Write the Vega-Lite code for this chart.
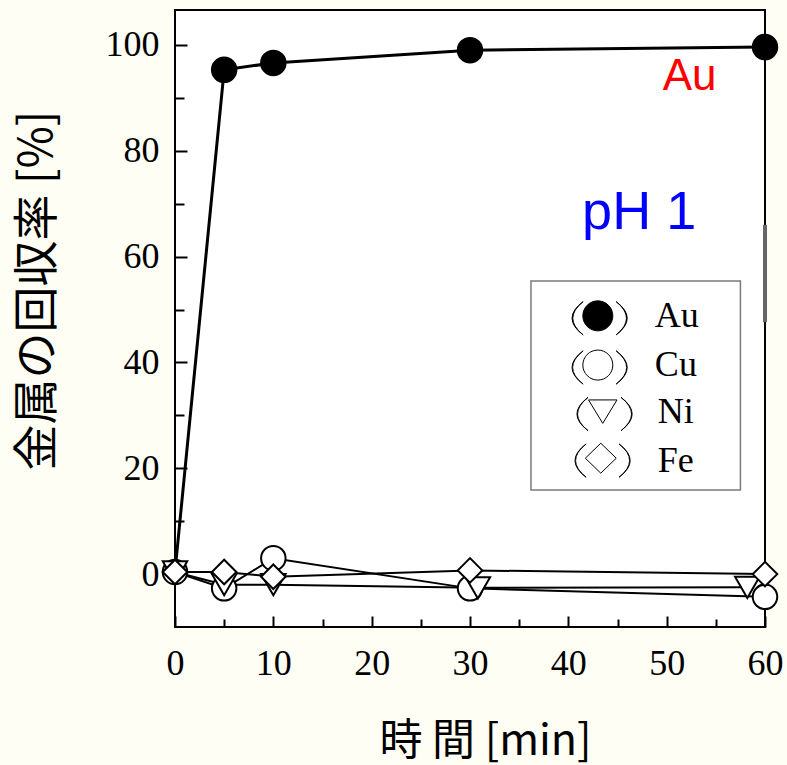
{
  "$schema": "https://vega.github.io/schema/vega-lite/v6.json",
  "width": 590,
  "height": 617,
  "autosize": {"type": "none"},
  "padding": {"left": 175, "top": 10, "right": 22, "bottom": 138},
  "background": "#fefef4",
  "config": {
    "view": {"stroke": "black", "strokeWidth": 2, "fill": "white"},
    "font": "Liberation Serif"
  },
  "datasets": {
    "recovery": [
      {"metal": "Au", "time": 0, "recovery": 0.5},
      {"metal": "Au", "time": 5, "recovery": 95.3},
      {"metal": "Au", "time": 10, "recovery": 96.6},
      {"metal": "Au", "time": 30, "recovery": 99.0},
      {"metal": "Au", "time": 60, "recovery": 99.6},
      {"metal": "Cu", "time": 0, "recovery": 0.4},
      {"metal": "Cu", "time": 5, "recovery": -2.7},
      {"metal": "Cu", "time": 10, "recovery": 3.0},
      {"metal": "Cu", "time": 30, "recovery": -2.7},
      {"metal": "Cu", "time": 60, "recovery": -4.3},
      {"metal": "Ni", "time": 0, "recovery": 0.4},
      {"metal": "Ni", "time": 5, "recovery": -2.0},
      {"metal": "Ni", "time": 10, "recovery": -2.0},
      {"metal": "Ni", "time": 30.8, "recovery": -2.6},
      {"metal": "Ni", "time": 58.2, "recovery": -2.5},
      {"metal": "Fe", "time": 0, "recovery": 0.4},
      {"metal": "Fe", "time": 5, "recovery": 0.4},
      {"metal": "Fe", "time": 10, "recovery": -0.5},
      {"metal": "Fe", "time": 30, "recovery": 0.7},
      {"metal": "Fe", "time": 60, "recovery": 0.0}
    ]
  },
  "resolve": {"axis": {"x": "independent", "y": "independent"}},
  "layer": [
    {
      "data": {"values": [{}]},
      "mark": {"type": "rect", "fill": "white", "stroke": "#7a7a7a", "strokeWidth": 1.5},
      "encoding": {
        "x": {"datum": 36.2, "type": "quantitative", "scale": {"domain": [0, 60], "nice": false}, "axis": null},
        "x2": {"datum": 57.5},
        "y": {"datum": 55.4, "type": "quantitative", "scale": {"domain": [-10, 106.6], "nice": false, "zero": false}, "axis": null},
        "y2": {"datum": 15.9}
      }
    },
    {
      "data": {"name": "recovery"},
      "transform": [{"filter": "datum.metal === 'Au'"}],
      "mark": {"type": "line", "color": "black", "strokeWidth": 3},
      "encoding": {
        "x": {
          "field": "time", "type": "quantitative",
          "scale": {"domain": [0, 60], "nice": false},
          "axis": {
            "orient": "bottom",
            "values": [0, 10, 20, 30, 40, 50, 60],
            "tickSize": -11, "tickWidth": 2, "tickColor": "black",
            "domain": false, "grid": false,
            "labelFont": "Liberation Serif", "labelFontSize": 36, "labelColor": "black",
            "labelPadding": 30, "labelFlush": false, "labelOverlap": false,
            "title": "時 間 [min]",
            "titleFont": "Noto Sans CJK JP", "titleFontSize": 43, "titleFontWeight": "normal",
            "titleColor": "black", "titleX": 310, "titleY": 93, "titleBaseline": "top", "titleAlign": "center"
          }
        },
        "y": {
          "field": "recovery", "type": "quantitative",
          "scale": {"domain": [-10, 106.6], "nice": false, "zero": false},
          "axis": {
            "orient": "left",
            "values": [0, 20, 40, 60, 80, 100],
            "tickSize": -12, "tickWidth": 2, "tickColor": "black",
            "domain": false, "grid": false,
            "labelFont": "Liberation Serif", "labelFontSize": 36, "labelColor": "black",
            "labelPadding": 28, "labelFlush": false, "labelOverlap": false,
            "title": "金属の回収率 [%]",
            "titleFont": "Noto Sans CJK JP", "titleFontSize": 46, "titleFontWeight": "normal",
            "titleColor": "black", "titleAngle": 270, "titleX": -114, "titleY": 280,
            "titleBaseline": "bottom", "titleAlign": "center"
          }
        }
      }
    },
    {
      "data": {"name": "recovery"},
      "transform": [{"filter": "datum.metal !== 'Au'"}],
      "mark": {"type": "line", "color": "black", "strokeWidth": 2},
      "encoding": {
        "x": {"field": "time", "type": "quantitative", "scale": {"domain": [0, 60], "nice": false}, "axis": null},
        "y": {"field": "recovery", "type": "quantitative", "scale": {"domain": [-10, 106.6], "nice": false, "zero": false}, "axis": null},
        "detail": {"field": "metal", "type": "nominal"}
      }
    },
    {
      "data": {"name": "recovery"},
      "transform": [{"filter": "datum.metal !== 'Au' || datum.time > 0"}],
      "mark": {"type": "point", "filled": true, "stroke": "black", "strokeWidth": 2, "size": 600, "opacity": 1},
      "encoding": {
        "x": {
          "field": "time", "type": "quantitative",
          "scale": {"domain": [0, 60], "nice": false},
          "axis": {
            "orient": "bottom",
            "values": [5, 15, 25, 35, 45, 55],
            "tickSize": -8, "tickWidth": 2, "tickColor": "black",
            "domain": false, "grid": false, "labels": false, "title": null
          }
        },
        "y": {
          "field": "recovery", "type": "quantitative",
          "scale": {"domain": [-10, 106.6], "nice": false, "zero": false},
          "axis": {
            "orient": "left",
            "values": [10, 30, 50, 70, 90],
            "tickSize": -9, "tickWidth": 2, "tickColor": "black",
            "domain": false, "grid": false, "labels": false, "title": null
          }
        },
        "fill": {
          "field": "metal", "type": "nominal",
          "scale": {"domain": ["Au", "Cu", "Ni", "Fe"], "range": ["black", "white", "white", "white"]},
          "legend": null
        },
        "shape": {
          "field": "metal", "type": "nominal",
          "scale": {"domain": ["Au", "Cu", "Ni", "Fe"], "range": ["circle", "circle", "triangle-down", "diamond"]},
          "legend": null
        }
      }
    },
    {
      "data": {"values": [{"metal": "Au"}]},
      "mark": {"type": "point", "shape": "M1,0C1,0.552 0.552,1 0,1C-0.552,1 -1,0.552 -1,0C-1,-0.552 -0.552,-1 0,-1C0.552,-1 1,-0.552 1,0ZM-0.98,-0.95Q-2.46,0.16 -0.98,1.27Q-2.36,0.16 -0.98,-0.95ZM1.22,-0.95Q2.7,0.16 1.22,1.27Q2.6,0.16 1.22,-0.95Z", "filled": true, "fill": "black", "stroke": "black", "strokeWidth": 1, "size": 900, "opacity": 1},
      "encoding": {
        "x": {"datum": 43.0, "type": "quantitative", "scale": {"domain": [0, 60], "nice": false}, "axis": null},
        "y": {"datum": 48.8, "type": "quantitative", "scale": {"domain": [-10, 106.6], "nice": false, "zero": false}, "axis": null}
      }
    },
    {
      "data": {"values": [{"metal": "Cu"}]},
      "mark": {"type": "point", "shape": "M1,0C1,0.552 0.552,1 0,1C-0.552,1 -1,0.552 -1,0C-1,-0.552 -0.552,-1 0,-1C0.552,-1 1,-0.552 1,0ZM-0.98,-0.95Q-2.46,0.16 -0.98,1.27Q-2.38,0.16 -0.98,-0.95ZM1.22,-0.95Q2.7,0.16 1.22,1.27Q2.62,0.16 1.22,-0.95Z", "filled": true, "fill": "white", "stroke": "black", "strokeWidth": 1, "size": 900, "opacity": 1},
      "encoding": {
        "x": {"datum": 43.0, "type": "quantitative", "scale": {"domain": [0, 60], "nice": false}, "axis": null},
        "y": {"datum": 39.5, "type": "quantitative", "scale": {"domain": [-10, 106.6], "nice": false, "zero": false}, "axis": null}
      }
    },
    {
      "data": {"values": [{"metal": "Ni"}]},
      "mark": {"type": "point", "shape": "M-0.95,-0.78L0.95,-0.78L0,0.78ZM-0.98,-0.95Q-2.46,0.16 -0.98,1.27Q-2.38,0.16 -0.98,-0.95ZM1.22,-0.95Q2.7,0.16 1.22,1.27Q2.62,0.16 1.22,-0.95Z", "filled": true, "fill": "white", "stroke": "black", "strokeWidth": 1, "size": 900, "opacity": 1},
      "encoding": {
        "x": {"datum": 43.5, "type": "quantitative", "scale": {"domain": [0, 60], "nice": false}, "axis": null},
        "y": {"datum": 30.7, "type": "quantitative", "scale": {"domain": [-10, 106.6], "nice": false, "zero": false}, "axis": null}
      }
    },
    {
      "data": {"values": [{"metal": "Fe"}]},
      "mark": {"type": "point", "shape": "M0,-1L1.03,0L0,1L-1.03,0ZM-0.98,-0.95Q-2.46,0.16 -0.98,1.27Q-2.38,0.16 -0.98,-0.95ZM1.22,-0.95Q2.7,0.16 1.22,1.27Q2.62,0.16 1.22,-0.95Z", "filled": true, "fill": "white", "stroke": "black", "strokeWidth": 1, "size": 900, "opacity": 1},
      "encoding": {
        "x": {"datum": 43.3, "type": "quantitative", "scale": {"domain": [0, 60], "nice": false}, "axis": null},
        "y": {"datum": 21.9, "type": "quantitative", "scale": {"domain": [-10, 106.6], "nice": false, "zero": false}, "axis": null}
      }
    },
    {
      "data": {"values": [{"metal": "Au"}]},
      "mark": {"type": "text", "font": "Liberation Serif", "fontSize": 36, "color": "black", "align": "left", "baseline": "alphabetic"},
      "encoding": {
        "x": {"datum": 48.8, "type": "quantitative", "scale": {"domain": [0, 60], "nice": false}, "axis": null},
        "y": {"datum": 46.7, "type": "quantitative", "scale": {"domain": [-10, 106.6], "nice": false, "zero": false}, "axis": null},
        "text": {"field": "metal"}
      }
    },
    {
      "data": {"values": [{"metal": "Cu"}]},
      "mark": {"type": "text", "font": "Liberation Serif", "fontSize": 36, "color": "black", "align": "left", "baseline": "alphabetic"},
      "encoding": {
        "x": {"datum": 48.8, "type": "quantitative", "scale": {"domain": [0, 60], "nice": false}, "axis": null},
        "y": {"datum": 37.4, "type": "quantitative", "scale": {"domain": [-10, 106.6], "nice": false, "zero": false}, "axis": null},
        "text": {"field": "metal"}
      }
    },
    {
      "data": {"values": [{"metal": "Ni"}]},
      "mark": {"type": "text", "font": "Liberation Serif", "fontSize": 36, "color": "black", "align": "left", "baseline": "alphabetic"},
      "encoding": {
        "x": {"datum": 49.1, "type": "quantitative", "scale": {"domain": [0, 60], "nice": false}, "axis": null},
        "y": {"datum": 28.5, "type": "quantitative", "scale": {"domain": [-10, 106.6], "nice": false, "zero": false}, "axis": null},
        "text": {"field": "metal"}
      }
    },
    {
      "data": {"values": [{"metal": "Fe"}]},
      "mark": {"type": "text", "font": "Liberation Serif", "fontSize": 36, "color": "black", "align": "left", "baseline": "alphabetic"},
      "encoding": {
        "x": {"datum": 49.1, "type": "quantitative", "scale": {"domain": [0, 60], "nice": false}, "axis": null},
        "y": {"datum": 19.3, "type": "quantitative", "scale": {"domain": [-10, 106.6], "nice": false, "zero": false}, "axis": null},
        "text": {"field": "metal"}
      }
    },
    {
      "data": {"values": [{}]},
      "mark": {"type": "rule", "stroke": "#666666", "strokeWidth": 4},
      "encoding": {
        "x": {"datum": 60, "type": "quantitative", "scale": {"domain": [0, 60], "nice": false}, "axis": null},
        "y": {"datum": 66, "type": "quantitative", "scale": {"domain": [-10, 106.6], "nice": false, "zero": false}, "axis": null},
        "y2": {"datum": 47.6}
      }
    },
    {
      "data": {"values": [{"label": "Au"}]},
      "mark": {"type": "text", "font": "Liberation Sans", "fontSize": 44, "color": "#ff0000", "align": "left", "baseline": "alphabetic"},
      "encoding": {
        "x": {"datum": 49.6, "type": "quantitative", "scale": {"domain": [0, 60], "nice": false}, "axis": null},
        "y": {"datum": 91.5, "type": "quantitative", "scale": {"domain": [-10, 106.6], "nice": false, "zero": false}, "axis": null},
        "text": {"field": "label"}
      }
    },
    {
      "data": {"values": [{"label": "pH 1"}]},
      "mark": {"type": "text", "font": "Liberation Sans", "fontSize": 54, "color": "#0000ff", "align": "left", "baseline": "alphabetic"},
      "encoding": {
        "x": {"datum": 41.4, "type": "quantitative", "scale": {"domain": [0, 60], "nice": false}, "axis": null},
        "y": {"datum": 65.2, "type": "quantitative", "scale": {"domain": [-10, 106.6], "nice": false, "zero": false}, "axis": null},
        "text": {"field": "label"}
      }
    }
  ]
}
